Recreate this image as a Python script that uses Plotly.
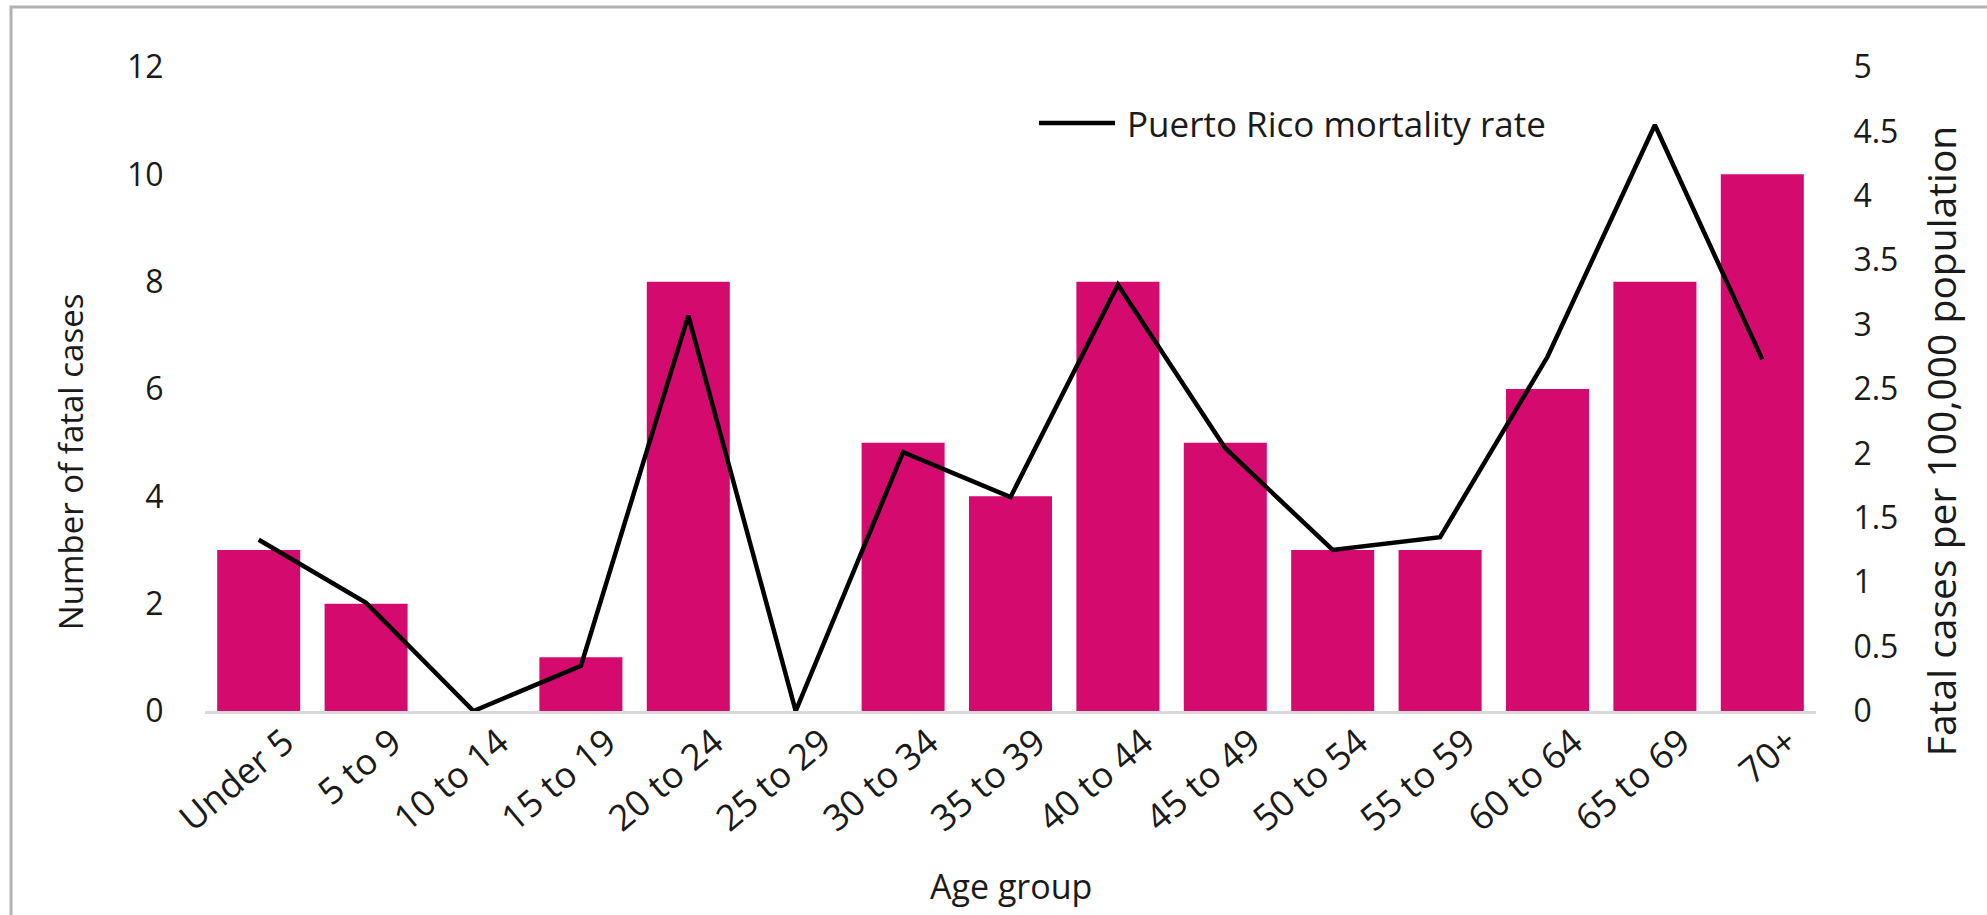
import plotly.graph_objects as go

# Age groups and values
age_groups = ["Under 5", "5 to 9", "10 to 14", "15 to 19", "20 to 24", "25 to 29",
              "30 to 34", "35 to 39", "40 to 44", "45 to 49", "50 to 54", "55 to 59",
              "60 to 64", "65 to 69", "70+"]
fatal_cases = [3, 2, 0, 1, 8, 0, 5, 4, 8, 5, 3, 3, 6, 8, 10]
mortality_rate = [1.33, 0.84, 0.0, 0.35, 3.07, 0.0, 2.01, 1.66, 3.31, 2.04,
                  1.25, 1.35, 2.75, 4.55, 2.73]

left_ticks = [0, 2, 4, 6, 8, 10, 12]
right_ticks = [0, 0.5, 1, 1.5, 2, 2.5, 3, 3.5, 4, 4.5, 5]
right_tick_text = ["0", "0.5", "1", "1.5", "2", "2.5", "3", "3.5", "4", "4.5", "5"]

BAR_COLOR = "#D50A6F"
TEXT_COLOR = "#1a1a1a"
FONT = "Open Sans"

fig = go.Figure()

fig.add_trace(go.Bar(
    x=age_groups, y=fatal_cases, name="Number of fatal cases",
    marker=dict(color=BAR_COLOR, line=dict(width=0)),
    showlegend=False, yaxis="y",
))

fig.add_trace(go.Scatter(
    x=age_groups, y=mortality_rate, name="Puerto Rico mortality rate",
    mode="lines", line=dict(color="black", width=4.5),
    showlegend=False, yaxis="y2",
))

fig.update_layout(
    width=1987, height=915,
    margin=dict(l=205, r=171, t=67, b=204),
    paper_bgcolor="white", plot_bgcolor="white",
    font=dict(family=FONT, color=TEXT_COLOR),
    bargap=0.227,
    xaxis=dict(
        type="category", showgrid=False, zeroline=False, automargin=False,
        showline=True, linecolor="#d9d9d9", linewidth=3,
        tickangle=-40, tickfont=dict(size=36, family=FONT, color=TEXT_COLOR),
        ticks="", ticklabelshift=26, ticklabelstandoff=-7,
    ),
    yaxis=dict(
        range=[0, 12], tickvals=left_ticks, showgrid=False, zeroline=False,
        showline=False, automargin=False,
        tickfont=dict(size=32, family=FONT, color=TEXT_COLOR),
        ticks="outside", ticklen=34, tickcolor="rgba(0,0,0,0)",
    ),
    yaxis2=dict(
        range=[0, 5], tickvals=right_ticks, ticktext=right_tick_text,
        overlaying="y", side="right", showgrid=False, zeroline=False,
        showline=False, automargin=False,
        tickfont=dict(size=32, family=FONT, color=TEXT_COLOR),
        ticks="outside", ticklen=30, tickcolor="rgba(0,0,0,0)",
    ),
    shapes=[
        # outer frame of the chart area
        dict(type="rect", xref="paper", yref="paper",
             x0=-0.1204, x1=1.2, y0=-0.5, y1=1.0932,
             line=dict(color="#b3b3b3", width=3), fillcolor="rgba(0,0,0,0)",
             layer="below"),
        # legend sample line
        dict(type="line", xref="paper", yref="paper",
             x0=0.5177, x1=0.5649, y0=0.913, y1=0.913,
             line=dict(color="black", width=4.5)),
    ],
    annotations=[
        dict(text="Puerto Rico mortality rate", xref="paper", yref="paper",
             x=0.571, y=0.913, xanchor="left", yanchor="middle", showarrow=False,
             font=dict(size=35, family=FONT, color=TEXT_COLOR)),
        dict(text="Number of fatal cases", xref="paper", yref="paper",
             x=-0.0838, y=0.388, xanchor="center", yanchor="middle",
             textangle=-90, showarrow=False,
             font=dict(size=33, family=FONT, color=TEXT_COLOR)),
        dict(text="Fatal cases per 100,000 population", xref="paper", yref="paper",
             x=1.077, y=0.419, xanchor="center", yanchor="middle",
             textangle=-90, showarrow=False,
             font=dict(size=39, family=FONT, color=TEXT_COLOR)),
        dict(text="Age group", xref="paper", yref="paper",
             x=0.5003, y=-0.272, xanchor="center", yanchor="middle",
             showarrow=False, font=dict(size=34, family=FONT, color=TEXT_COLOR)),
    ],
)

fig.write_html("out.html")
